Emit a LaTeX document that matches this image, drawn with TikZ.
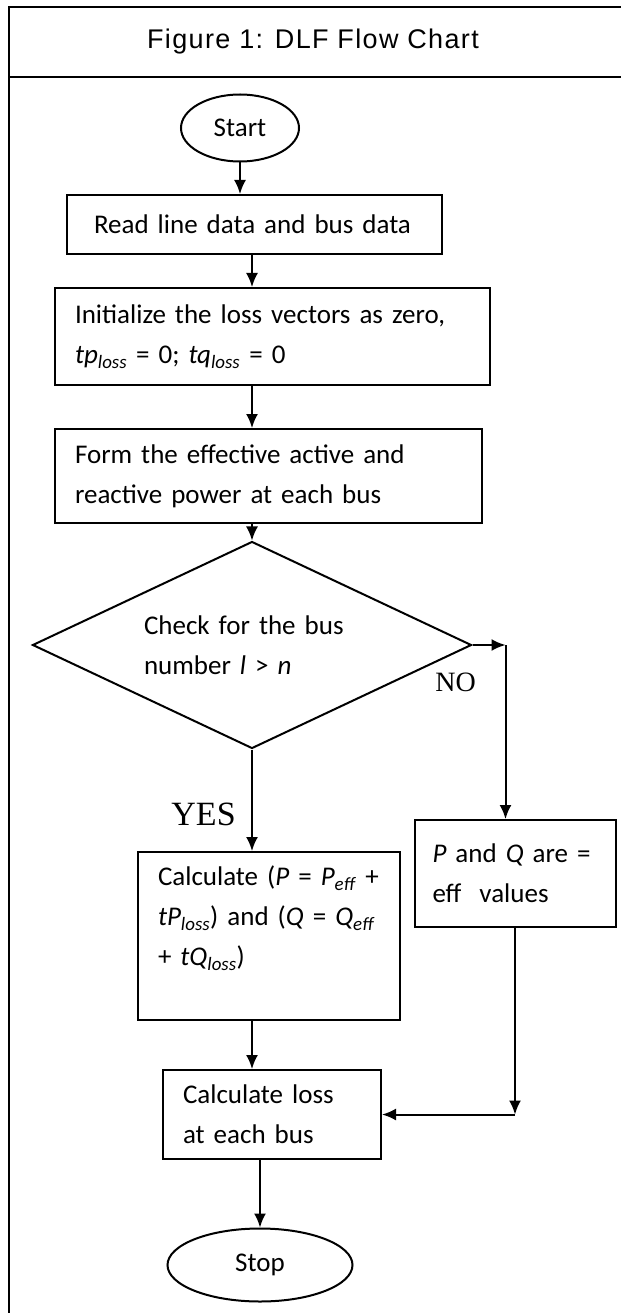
\documentclass[tikz,border=0pt]{standalone}
\usepackage{fontspec}
\setmainfont{Carlito}
\newfontfamily\titlefont[LetterSpace=5]{Liberation Sans}
\newfontfamily\timesfont{Liberation Serif}
\usetikzlibrary{shapes,arrows.meta}
\newcommand{\lsub}[2]{\textit{#1}\textsubscript{\textit{#2}}}
\tikzstyle{block} = [draw, line width=2pt, rectangle, align=left,
    inner ysep=0pt, inner xsep=20pt]
\tikzstyle{term} = [draw, line width=2pt, ellipse, inner sep=0pt]
\tikzstyle{decision} = [draw, line width=2pt, diamond, aspect=2.12,
    inner sep=0pt, align=left]
\tikzstyle{yesno} = [font=\timesfont\fontsize{28}{30}\selectfont]
\tikzstyle{line} = [draw, line width=2pt]

\begin{document}
\begin{tikzpicture}[x=1pt, y=1pt, node distance=100pt,
    >={Latex[length=14pt, width=12pt]}, font=\fontsize{27}{40}\selectfont]
          \useasboundingbox (0,0) rectangle (621,-1313);

          % Frame and title
          \draw [line width=2pt] (9,-1313) -- (9,-7) -- (621,-7);
          \draw [line width=2.5pt] (9,-77) -- (621,-77);
          \node [font=\titlefont\fontsize{27}{30}\selectfont] (title) at (313,-42) {Figure 1: DLF Flow Chart};

          % Place the blocks
          \node [term, minimum width=118pt, minimum height=67pt] (start) at (240,-128) {Start};
          \node [block, below of=start, node distance=96.5pt, xshift=14.5pt, text width=321pt,
              inner xsep=27pt, minimum height=59pt] (read) {Read line data and bus data};
          \node [block, below of=read, node distance=112pt, xshift=18pt, text width=395pt,
              minimum height=97pt] (init) {Initialize the loss vectors as zero,\\
              \lsub{tp}{loss} = 0; \lsub{tq}{loss} = 0};
          \node [block, below of=init, node distance=139.5pt, xshift=-4pt, text width=387pt,
              minimum height=94pt] (form) {Form the effective active and\\
              reactive power at each bus};
          \node [decision, below of=form, node distance=169pt, xshift=-16.5pt, text width=216pt,
              minimum width=439pt, minimum height=207pt] (check) {Check for the bus\\
              number \textit{l} > \textit{n}};
          \node [block, below of=check, node distance=228.5pt, xshift=263pt, text width=165pt,
              inner xsep=18pt, minimum height=107pt] (eff) {\textit{P} and \textit{Q} are =\\
              eff\ \ values};
          \node [block, below of=check, node distance=291pt, xshift=17pt, text width=222pt,
              minimum height=168pt] (calc) {Calculate (\textit{P} = \lsub{P}{eff} +\\
              \lsub{tP}{loss}) and (\textit{Q} = \lsub{Q}{eff}\\
              + \lsub{tQ}{loss})\\ \mbox{}};
          \node [block, below of=calc, node distance=178.5pt, xshift=3pt, text width=178pt,
              minimum height=89pt] (loss) {Calculate loss\\ at each bus};
          \node [term, below of=loss, node distance=150.5pt, xshift=-12pt, minimum width=185pt,
              minimum height=73pt] (stop) {Stop};
          \coordinate (nocorner) at ([xshift=33pt]check.east);
          \coordinate (merge) at (eff.south |- loss.east);
          \node [yesno] (no) at ([xshift=-17pt, yshift=-37pt]check.east) {NO};

          % Connections
          \draw [line, ->] (start) -- (start |- read.north);
          \draw [line, ->] (read.south -| check) -- (init.north -| check);
          \draw [line, ->] (init.south -| check) -- (form.north -| check);
          \draw [line, ->] (form.south -| check) -- (check);
          \draw [line, ->] (check.south) -- node [yesno, font=\timesfont\fontsize{34}{36}\selectfont,
              left=12pt, pos=0.64] {YES} (calc.north -| check);
          \draw [line, ->] (check.east) -- (nocorner);
          \draw [line, ->] (nocorner) -- (nocorner |- eff.north);
          \draw [line, ->] (calc.south -| check) -- (loss.north -| check);
          \draw [line, ->] (eff.south) -- (merge);
          \draw [line, ->] (merge) -- (loss.east);
          \draw [line, ->] (loss.south -| stop) -- (stop);
      \end{tikzpicture}
\end{document}
